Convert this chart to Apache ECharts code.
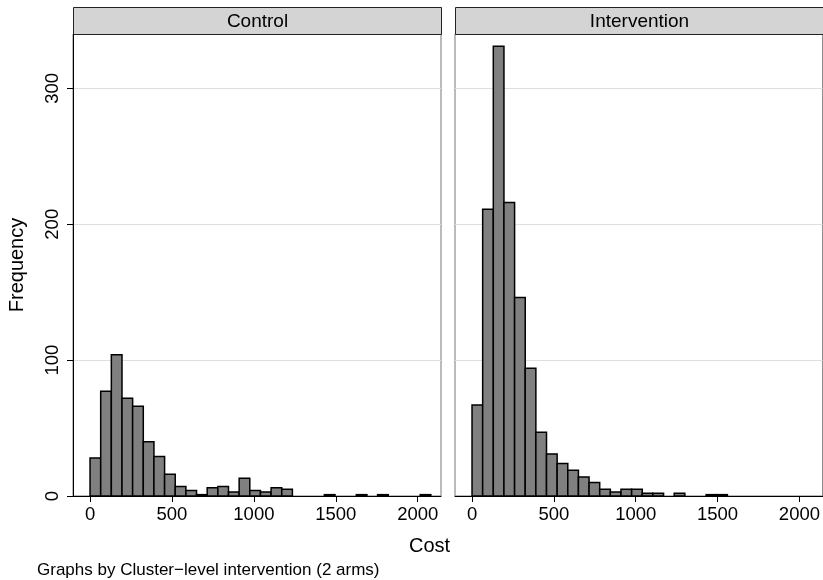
<!DOCTYPE html>
<html>
<head>
<meta charset="utf-8">
<script src="https://cdn.jsdelivr.net/npm/echarts@6/dist/echarts.min.js"></script>
<style>
  html, body { margin: 0; padding: 0; background: #fff; }
  #chart { width: 823px; height: 580px; }
</style>
</head>
<body>
<div id="chart"></div>
<script>
// histogram bins (Cost), shared by both panels
var binStart = 0;
var binWidth = 65;
var controlCounts = [28, 77, 104, 72, 66, 40, 29, 16, 7, 4, 1, 6, 7, 3, 13, 4, 3, 6, 5, 0, 0, 0, 1, 0, 0, 1, 0, 1, 0, 0, 0, 1];
var interventionCounts = [67, 211, 331, 216, 146, 94, 47, 31, 24, 19, 14, 10, 5, 3, 5, 5, 2, 2, 0, 2, 0, 0, 1, 1];
var panelNames = ['Control', 'Intervention'];
var xTicks = [0, 500, 1000, 1500, 2000];
var yTicks = [0, 100, 200, 300];

var FONT = 'Liberation Sans, Arial, Helvetica, sans-serif';

function toBins(counts) {
    var out = [];
    counts.forEach(function (n, i) {
        if (n > 0) out.push([binStart + i * binWidth, binStart + (i + 1) * binWidth, n]);
    });
    return out;
}

function renderBar(params, api) {
    var top = api.coord([api.value(0), api.value(2)]);
    var bottom = api.coord([api.value(1), 0]);
    return {
        type: 'rect',
        shape: { x: top[0], y: top[1], width: bottom[0] - top[0], height: bottom[1] - top[1] },
        style: { fill: '#808080', stroke: '#000', lineWidth: 1.5 }
    };
}

function plain(v) { return String(v); }

function xAxisFor(idx) {
    return {
        type: 'value', gridIndex: idx, min: -104, max: 2142,
        axisLine: { show: true, onZero: false, lineStyle: { color: '#000', width: 1 } },
        axisTick: { show: true, length: 6, customValues: xTicks, lineStyle: { color: '#000' } },
        axisLabel: { customValues: xTicks, formatter: plain, color: '#000', fontSize: 18.5, fontFamily: FONT, margin: 9 },
        splitLine: { show: false }
    };
}

var chart = echarts.init(document.getElementById('chart'));

chart.setOption({
    animation: false,
    backgroundColor: '#fff',
    grid: [
        { left: 73, top: 34, width: 368, bottom: 84, show: true, borderColor: '#777', borderWidth: 1 },
        { left: 455, top: 34, width: 368, bottom: 84, show: true, borderColor: '#777', borderWidth: 1 }
    ],
    title: [
        { text: 'Cost', left: 409, top: 536, padding: 0,
          textStyle: { fontSize: 20, fontWeight: 'normal', color: '#000', fontFamily: FONT } },
        { text: 'Graphs by Cluster\u2212level intervention (2 arms)', left: 37, top: 562, padding: 0,
          textStyle: { fontSize: 17, fontWeight: 'normal', color: '#000', fontFamily: FONT } }
    ],
    xAxis: [xAxisFor(0), xAxisFor(1)],
    yAxis: [
        {
            type: 'value', gridIndex: 0, min: 0, max: 340,
            name: 'Frequency', nameLocation: 'middle', nameGap: 46,
            nameTextStyle: { fontSize: 20, color: '#000', fontFamily: FONT },
            axisLine: { show: true, onZero: false, lineStyle: { color: '#000', width: 1 } },
            axisTick: { show: true, length: 6, customValues: yTicks, lineStyle: { color: '#000' } },
            axisLabel: { customValues: yTicks, rotate: 90, color: '#000', fontSize: 18.5, fontFamily: FONT, margin: 11 },
            splitLine: { show: true, lineStyle: { color: '#dedede', width: 1.2 } }
        },
        {
            type: 'value', gridIndex: 1, min: 0, max: 340,
            axisLine: { show: false, onZero: false },
            axisTick: { show: false, customValues: yTicks },
            axisLabel: { show: false, customValues: yTicks },
            splitLine: { show: true, lineStyle: { color: '#dedede', width: 1.2 } }
        }
    ],
    series: [
        { type: 'custom', name: panelNames[0], xAxisIndex: 0, yAxisIndex: 0,
          renderItem: renderBar, data: toBins(controlCounts) },
        { type: 'custom', name: panelNames[1], xAxisIndex: 1, yAxisIndex: 1,
          renderItem: renderBar, data: toBins(interventionCounts) }
    ],
    graphic: [0, 1].map(function (i) {
        var left = i === 0 ? 73 : 455;
        return {
            type: 'group', left: left, top: 7,
            children: [
                { type: 'rect', shape: { x: 0, y: 0, width: 368, height: 27 },
                  style: { fill: '#d4d4d4', stroke: '#222', lineWidth: 1 } },
                { type: 'text', x: 184, y: 14,
                  style: { text: panelNames[i], fill: '#000', font: '19px ' + FONT,
                           textAlign: 'center', textVerticalAlign: 'middle' } }
            ]
        };
    })
});
</script>
</body>
</html>
